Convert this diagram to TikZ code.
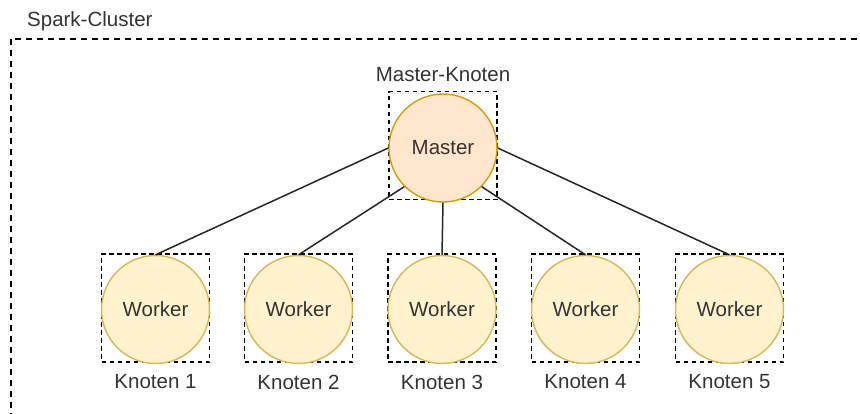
\documentclass[tikz,border=0pt]{standalone}
\usepackage{fontspec}
\setmainfont{Liberation Sans}
\definecolor{txt}{HTML}{333333}
\definecolor{mfill}{HTML}{FFE6CC}
\definecolor{mdraw}{HTML}{D79B00}
\definecolor{wfill}{HTML}{FFF2CC}
\definecolor{wdraw}{HTML}{D6B656}
\begin{document}
\begin{tikzpicture}[x=1pt,y=-1pt,
  lbl/.style={font=\fontsize{20.5}{24}\selectfont, text=txt, inner sep=0pt},
  nodebox/.style={draw=black, line width=1.2pt, dash pattern=on 4.5pt off 3.5pt, minimum width=108pt, minimum height=108pt, inner sep=0pt},
  master/.style={circle, draw=mdraw, fill=mfill, line width=1.4pt, minimum size=108pt, inner sep=0pt, lbl},
  worker/.style={circle, draw=wdraw, fill=wfill, line width=1.4pt, minimum size=108pt, inner sep=0pt, lbl},
  link/.style={draw=black!85, line width=1.5pt}]
\clip (0,0) rectangle (860,413);
\fill[white] (0,0) rectangle (860,413);
% outer cluster
\draw[black, line width=1.2pt, dash pattern=on 6pt off 5pt] (11,39) rectangle (880,440);
\node[lbl, anchor=west] (cl) at (27,21) {Spark-Cluster};
% master
\node[nodebox] (mbox) at (443,145.5) {};
\node[master] (m) at (443,148) {Master};
\node[lbl] (ml) at (443,75) {Master-Knoten};
% workers
\foreach \i/\x in {1/155.5,2/298.5,3/442,4/585.5,5/729.5}{
  \node[nodebox] (wb\i) at (\x,308) {};
  \node[worker] (w\i) at (\x,309.5) {Worker};
  \node[lbl] (wl\i) at (\x,382) {Knoten \i};
}
\draw[link] (m.west) -- (w1.north);
\draw[link] (m.south west) -- (w2.north);
\draw[link] (m.south) -- (w3.north);
\draw[link] (m.south east) -- (w4.north);
\draw[link] (m.east) -- (w5.north);
\end{tikzpicture}
\end{document}
